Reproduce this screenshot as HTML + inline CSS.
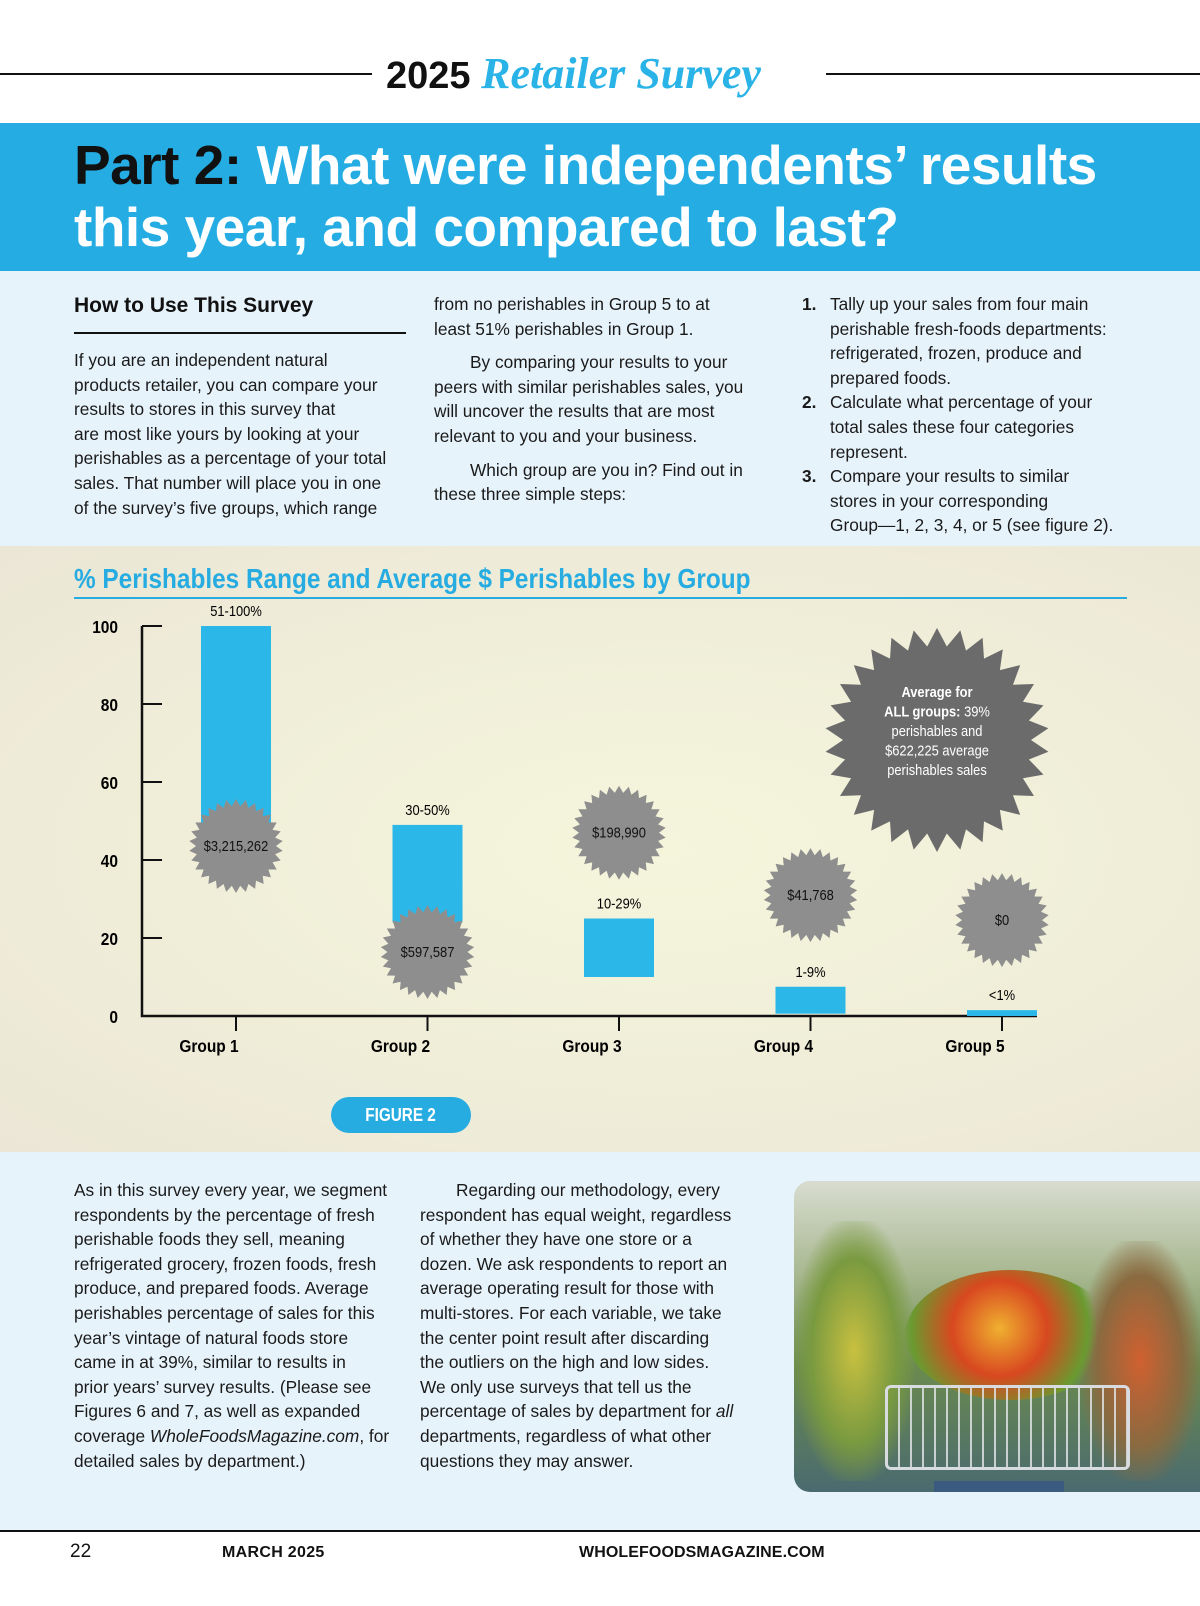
<!DOCTYPE html>
<html><head><meta charset="utf-8">
<style>
*{margin:0;padding:0;box-sizing:border-box}
body{width:1200px;height:1606px;position:relative;background:#fff;font-family:"Liberation Sans",sans-serif;overflow:hidden;color:#111}
.abs{position:absolute}
.p{font-size:17.3px;line-height:24.6px;color:#1a1a1a;white-space:nowrap}
.ind{display:inline-block;width:36px}
.cond{transform-origin:0 0;transform:scaleX(0.86);white-space:nowrap}
</style></head><body>
<div class="abs" style="left:0;top:73px;width:372px;height:2px;background:#111"></div>
<div class="abs" style="left:826px;top:73px;width:374px;height:2px;background:#111"></div>
<div class="abs" style="left:386px;top:48px;font-size:38px;font-weight:bold;white-space:nowrap">2025 <span style="font-family:'Liberation Serif',serif;font-style:italic;font-weight:bold;color:#29b3e6;font-size:44px">Retailer Survey</span></div>

<div class="abs" style="left:0;top:123px;width:1200px;height:148px;background:#25ade3"></div>
<div class="abs" style="left:74px;top:134px;font-size:55px;font-weight:bold;line-height:62px;color:#fff;letter-spacing:-0.5px;white-space:nowrap"><span style="color:#111">Part 2:</span> What were independents’ results<br>this year, and compared to last?</div>

<div class="abs" style="left:0;top:271px;width:1200px;height:275px;background:#e7f3fb"></div>
<div class="abs" style="left:74px;top:294px;font-size:21px;font-weight:bold">How to Use This Survey</div>
<div class="abs" style="left:74px;top:332px;width:332px;height:2px;background:#111"></div>
<div class="abs p" style="left:74px;top:348px">If you are an independent natural<br>products retailer, you can compare your<br>results to stores in this survey that<br>are most like yours by looking at your<br>perishables as a percentage of your total<br>sales. That number will place you in one<br>of the survey’s five groups, which range</div>
<div class="abs p" style="left:434px;top:292px">from no perishables in Group 5 to at<br>least 51% perishables in Group 1.<div style="margin-top:9px"><span class="ind"></span>By comparing your results to your<br>peers with similar perishables sales, you<br>will uncover the results that are most<br>relevant to you and your business.</div><div style="margin-top:9px"><span class="ind"></span>Which group are you in? Find out in<br>these three simple steps:</div></div>
<div class="abs p" style="left:802px;top:292px">
<div style="padding-left:28px;position:relative"><b style="position:absolute;left:0">1.</b>Tally up your sales from four main<br>perishable fresh-foods departments:<br>refrigerated, frozen, produce and<br>prepared foods.</div>
<div style="padding-left:28px;position:relative"><b style="position:absolute;left:0">2.</b>Calculate what percentage of your<br>total sales these four categories<br>represent.</div>
<div style="padding-left:28px;position:relative"><b style="position:absolute;left:0">3.</b>Compare your results to similar<br>stores in your corresponding<br>Group—1, 2, 3, 4, or 5 (see figure 2).</div></div>

<div class="abs" style="left:0;top:546px;width:1200px;height:606px;background:radial-gradient(ellipse at 55% 50%,#f5f5dc 0%,#efedd8 60%,#ebe6d6 100%)"></div>
<div class="abs cond" style="left:74px;top:563px;font-size:28px;font-weight:bold;color:#27ace2;transform:scaleX(0.87)">% Perishables Range and Average $ Perishables by Group</div>
<div class="abs" style="left:74px;top:597px;width:1053px;height:2px;background:#27ace2"></div>
<svg id="chart" class="abs" style="left:0;top:0" width="1200" height="1152"></svg>
<div class="abs" style="left:331px;top:1097px;width:140px;height:36px;border-radius:18px;background:#27ace2;color:#fff;font-weight:bold;font-size:18px;line-height:36px;text-align:center"><span style="display:inline-block;transform:scaleX(0.85)">FIGURE 2</span></div>

<div class="abs" style="left:0;top:1152px;width:1200px;height:378px;background:#e7f3fb"></div>
<div class="abs p" style="left:74px;top:1178px">As in this survey every year, we segment<br>respondents by the percentage of fresh<br>perishable foods they sell, meaning<br>refrigerated grocery, frozen foods, fresh<br>produce, and prepared foods. Average<br>perishables percentage of sales for this<br>year’s vintage of natural foods store<br>came in at 39%, similar to results in<br>prior years’ survey results. (Please see<br>Figures 6 and 7, as well as expanded<br>coverage <i>WholeFoodsMagazine.com</i>, for<br>detailed sales by department.)</div>
<div class="abs p" style="left:420px;top:1178px"><span class="ind"></span>Regarding our methodology, every<br>respondent has equal weight, regardless<br>of whether they have one store or a<br>dozen. We ask respondents to report an<br>average operating result for those with<br>multi-stores. For each variable, we take<br>the center point result after discarding<br>the outliers on the high and low sides.<br>We only use surveys that tell us the<br>percentage of sales by department for <i>all</i><br>departments, regardless of what other<br>questions they may answer.</div>
<div class="abs" style="left:794px;top:1181px;width:406px;height:311px;border-radius:16px 0 0 16px;overflow:hidden;background:linear-gradient(180deg,#d8dcd0 0%,#a8b890 30%,#6a8a50 60%,#4a6a70 100%)">
<div style="position:absolute;left:0;top:40px;width:120px;height:260px;background:radial-gradient(ellipse,#c8c040 0%,#7a9a40 50%,transparent 75%)"></div>
<div style="position:absolute;right:0;top:60px;width:120px;height:240px;background:radial-gradient(ellipse,#d06030 0%,#8a6a40 50%,transparent 75%)"></div>
<div style="position:absolute;left:140px;top:300px;width:130px;height:20px;background:#3a5a80"></div>
</div>
<div class="abs" style="left:905px;top:1270px;width:210px;height:130px;border-radius:50%;background:radial-gradient(circle at 45% 45%,#f0b030,#d84820 35%,#6a9a30 65%,transparent 72%)"></div>
<div class="abs" style="left:885px;top:1385px;width:245px;height:85px;border:3px solid #d8dce0;border-radius:6px;background:repeating-linear-gradient(90deg,transparent 0 10px,rgba(230,232,236,.8) 10px 12px)"></div>

<div class="abs" style="left:0;top:1530px;width:1200px;height:2px;background:#111"></div>
<div class="abs" style="left:70px;top:1541px;font-size:19px">22</div>
<div class="abs" style="left:222px;top:1544px;font-size:16px;font-weight:bold;letter-spacing:.3px">MARCH 2025</div>
<div class="abs" style="left:579px;top:1544px;font-size:16px;font-weight:bold;letter-spacing:.1px">WHOLEFOODSMAGAZINE.COM</div>

<script>
const groups=["Group 1","Group 2","Group 3","Group 4","Group 5"];
const lowPct=[45,24,10,0.6,0];
const highPct=[100,49,25,7.5,1.5];
const rangeLabels=["51-100%","30-50%","10-29%","1-9%","<1%"];
const salesLabels=["$3,215,262","$597,587","$198,990","$41,768","$0"];
const burstLevel=[43.6,16.4,47,31,24.6];
const yTicks=[0,20,40,60,80,100];

const svg=document.getElementById('chart');
const NS='http://www.w3.org/2000/svg';
const x0=142,x1=1037,y0=1016,y100=626;
const yS=v=>y0-(v/100)*(y0-y100);
const xS=i=>236+i*191.5;
function mk(t,a,txt){const e=document.createElementNS(NS,t);for(const k in a)e.setAttribute(k,a[k]);if(txt!=null)e.textContent=txt;svg.appendChild(e);return e;}
function star(cx,cy,ro,ri,n){let p=[];for(let i=0;i<n*2;i++){const r=i%2?ri:ro,a=Math.PI*i/n;p.push((cx+r*Math.sin(a)).toFixed(1)+','+(cy-r*Math.cos(a)).toFixed(1));}return p.join(' ');}
function ctext(x,y,anchor,size,txt,extra){const a=Object.assign({x:0,y:0,'text-anchor':anchor,'font-size':size,transform:`translate(${x},${y}) scale(0.86,1)`},extra||{});return mk('text',a,txt);}

const ax=mk('path',{d:`M${x0} ${yS(100)}V${y0}H${x1}`,stroke:'#111','stroke-width':2.5,fill:'none'});

yTicks.forEach(v=>{
 const t=mk('line',{x1:x0,x2:x0+20,y1:yS(v),y2:yS(v),stroke:'#111','stroke-width':2});
 
 const l=ctext(118,yS(v)+7,'end',18,v,{'font-weight':'bold'});
 
});
groups.forEach((g,i)=>{
 const cx=xS(i);
 const b=mk('rect',{x:cx-35,y:yS(highPct[i]),width:70,height:yS(lowPct[i])-yS(highPct[i]),fill:'#2bb8e8'});
 
 const rl=ctext(cx,yS(highPct[i])-10,'middle',15,rangeLabels[i]);
 
 const tk=mk('line',{x1:cx,x2:cx,y1:y0,y2:y0+15,stroke:'#111','stroke-width':2});
 
 const gl=ctext(cx-27,1052,'middle',18,g,{'font-weight':'bold'});
 
 const by=yS(burstLevel[i]);
 const s=mk('polygon',{points:star(cx,by,47,40,30),fill:'#8e8e8e'});
 
 const sl=ctext(cx,by+5,'middle',15,salesLabels[i],{fill:'#111'});
 
});
const big=mk('polygon',{points:star(937,740,112,94,30),fill:'#6b6b6b'});

const avgLines=[["Average for",true],["ALL groups: 39%",null],["perishables and",false],["$622,225 average",false],["perishables sales",false]];
avgLines.forEach((l,k)=>{
 const t=ctext(937,697+k*19.5,'middle',15,null,{fill:'#fff','font-weight':l[1]?'bold':'normal'});
 if(l[1]===null){const a=document.createElementNS(NS,'tspan');a.setAttribute('font-weight','bold');a.textContent='ALL groups:';t.appendChild(a);t.appendChild(document.createTextNode(' 39%'));}
 else t.textContent=l[0];
 
});
</script>
</body></html>
